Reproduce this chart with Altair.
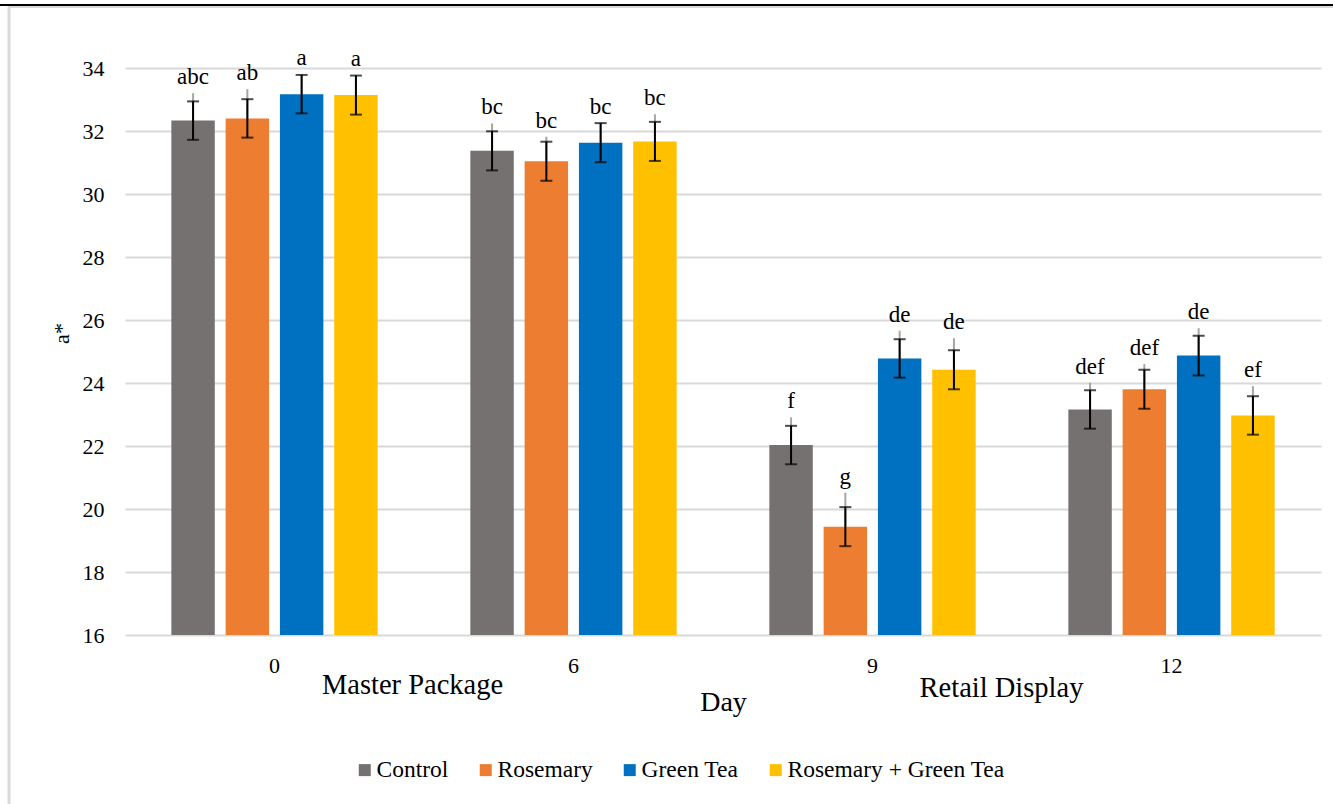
import altair as alt
import pandas as pd

# Storage day groups and treatments
days = ["0", "6", "9", "12"]
treatments = ["Control", "Rosemary", "Green Tea", "Rosemary + Green Tea"]
colors = ["#767171", "#ED7D31", "#0070C0", "#FFC000"]

# Mean a* value per treatment, one entry per day
control_mean = [32.33, 31.37, 22.03, 23.16]
rosemary_mean = [32.40, 31.04, 19.44, 23.80]
green_tea_mean = [33.17, 31.63, 24.78, 24.87]
combo_mean = [33.14, 31.67, 24.42, 22.97]

# Standard error (black whiskers with caps)
control_err = [0.61, 0.62, 0.61, 0.61]
rosemary_err = [0.61, 0.62, 0.62, 0.62]
green_tea_err = [0.61, 0.62, 0.61, 0.63]
combo_err = [0.62, 0.62, 0.62, 0.61]

# Upper end of the grey whisker drawn above each bar
control_upper = [33.20, 32.24, 22.91, 24.01]
rosemary_upper = [33.33, 31.82, 20.52, 24.60]
green_tea_upper = [33.80, 32.26, 25.66, 25.74]
combo_upper = [33.78, 32.53, 25.42, 23.90]

# Significance letters
control_sig = ["abc", "bc", "f", "def"]
rosemary_sig = ["ab", "bc", "g", "def"]
green_tea_sig = ["a", "bc", "de", "de"]
combo_sig = ["a", "bc", "de", "ef"]

means = [control_mean, rosemary_mean, green_tea_mean, combo_mean]
errs = [control_err, rosemary_err, green_tea_err, combo_err]
uppers = [control_upper, rosemary_upper, green_tea_upper, combo_upper]
sigs = [control_sig, rosemary_sig, green_tea_sig, combo_sig]

rows = []
for t, m, e, u, s in zip(treatments, means, errs, uppers, sigs):
    for i, d in enumerate(days):
        rows.append({
            "day": d, "treatment": t, "mean": m[i],
            "lo": m[i] - e[i], "hi": m[i] + e[i],
            "upper": u[i], "sig": s[i],
        })
df = pd.DataFrame(rows)

FONT = "Liberation Serif"
W, H = 1196, 567

x_enc = alt.X(
    "day:N", sort=days,
    scale=alt.Scale(paddingInner=0.31, paddingOuter=0.155),
    axis=alt.Axis(
        title="Day", titleFontSize=28, titleFont=FONT, titleFontWeight="normal",
        titleColor="black", titleBaseline="alphabetic", titleY=75,
        labelAngle=0, labelFontSize=22, labelFont=FONT, labelColor="black",
        labelBaseline="alphabetic", labelPadding=37,
        ticks=False, domain=False, grid=False,
    ),
)
xo_enc = alt.XOffset("treatment:N", sort=treatments,
                     scale=alt.Scale(paddingInner=0.2, paddingOuter=0))
y_scale = alt.Scale(domain=[16, 34], nice=False, zero=False)
y_axis = alt.Axis(
    title="a*", titleFontSize=22, titleFont=FONT, titleFontWeight="normal",
    titleColor="black", titleX=-64, titleY=265, titleAngle=-90,
    titleAlign="center", titleBaseline="middle",
    values=list(range(16, 35, 2)), labelFontSize=22, labelFont=FONT,
    labelColor="black", labelPadding=21, ticks=False, domain=False,
    grid=True, gridColor="#D9D9D9", gridWidth=2,
)

base = alt.Chart(df)

bars = base.mark_bar().encode(
    x=x_enc, xOffset=xo_enc,
    y=alt.Y("mean:Q", scale=y_scale, axis=y_axis),
    y2=alt.datum(16),
    color=alt.Color(
        "treatment:N", sort=treatments,
        scale=alt.Scale(domain=treatments, range=colors),
        legend=alt.Legend(
            title=None, orient="none", direction="horizontal",
            legendX=228, legendY=690, symbolType="square", symbolSize=144,
            symbolStrokeWidth=0, labelFontSize=23.5, labelFont=FONT,
            labelColor="black", labelOffset=0, columnPadding=25, padding=0,
            labelLimit=500,
        ),
    ),
)

whisker = base.mark_rule(color="black", strokeWidth=2).encode(
    x=x_enc, xOffset=xo_enc, y=alt.Y("lo:Q", scale=y_scale, axis=y_axis), y2="hi:Q"
)
cap_lo = base.mark_tick(color="black", size=12, thickness=2).encode(
    x=x_enc, xOffset=xo_enc, y=alt.Y("lo:Q", scale=y_scale, axis=y_axis)
)
cap_hi = base.mark_tick(color="black", size=12, thickness=2).encode(
    x=x_enc, xOffset=xo_enc, y=alt.Y("hi:Q", scale=y_scale, axis=y_axis)
)
grey_whisker = base.mark_rule(color="#A6A6A6", strokeWidth=2).encode(
    x=x_enc, xOffset=xo_enc, y=alt.Y("mean:Q", scale=y_scale, axis=y_axis), y2="upper:Q"
)
letters = base.mark_text(
    font=FONT, fontSize=23, color="black", baseline="alphabetic", dy=-9
).encode(
    x=x_enc, xOffset=xo_enc, y=alt.Y("upper:Q", scale=y_scale, axis=y_axis), text="sig:N"
)

one = pd.DataFrame({"k": [0]})
phases = pd.DataFrame({
    "label": ["Master Package", "Retail Display"],
    "px": [287.5, 876.5],
    "py": [626, 629],
})
phase_text = alt.Chart(phases).mark_text(
    font=FONT, fontSize=28.5, color="black", baseline="alphabetic", align="center"
).encode(
    x=alt.X("px:Q", scale=None), y=alt.Y("py:Q", scale=None), text="label:N"
)

frame_top = alt.Chart(one).mark_rule(color="black", strokeWidth=2).encode(
    x=alt.value(-125), x2=alt.value(W + 12), y=alt.value(-63)
)
frame_top_inner = alt.Chart(one).mark_rule(color="#D9D9D9", strokeWidth=2).encode(
    x=alt.value(-117), x2=alt.value(W + 12), y=alt.value(-61)
)
frame_left = alt.Chart(one).mark_rule(color="#D9D9D9", strokeWidth=3).encode(
    x=alt.value(-116), y=alt.value(-61), y2=alt.value(H + 169)
)

chart = alt.layer(
    bars, grey_whisker, whisker, cap_lo, cap_hi, letters, phase_text,
    frame_top, frame_top_inner, frame_left,
).properties(
    width=W, height=H,
    autosize=alt.AutoSizeParams(type="none"),
    padding={"left": 125, "top": 68, "right": 12, "bottom": 169},
    background="white",
).configure(
    font=FONT,
).configure_axis(
    labelFont=FONT, titleFont=FONT, labelColor="black", titleColor="black",
).configure_legend(
    labelFont=FONT, labelColor="black", labelLimit=500,
).configure_view(stroke=None)

chart.save("out.html", embed_options={"renderer": "svg", "actions": False})
